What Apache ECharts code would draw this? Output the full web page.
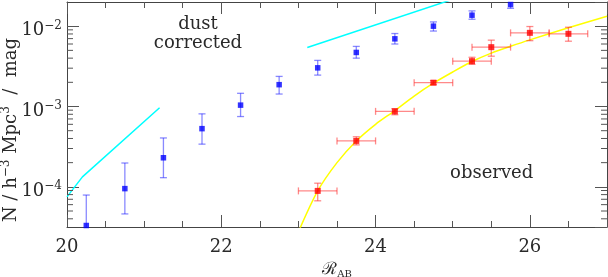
<!DOCTYPE html>
<html>
<head>
<meta charset="utf-8">
<script src="https://cdn.jsdelivr.net/npm/echarts@6/dist/echarts.min.js"></script>
<style>
html,body{margin:0;padding:0;background:#fff;}
#c{width:608px;height:277px;}
</style>
</head>
<body>
<div id="c"></div>
<script>
// ---- data ----
const blueMag = [20.25, 20.75, 21.25, 21.75, 22.25, 22.75, 23.25, 23.75, 24.25, 24.75, 25.25, 25.75];
const blueN   = [3.3e-5, 9.5e-5, 2.3e-4, 5.3e-4, 1.04e-3, 1.87e-3, 3.03e-3, 4.71e-3, 6.96e-3, 1.0e-2, 1.37e-2, 1.86e-2];
const blueLo  = [1.5e-5, 4.6e-5, 1.30e-4, 3.4e-4, 7.5e-4, 1.43e-3, 2.46e-3, 4.0e-3, 6.0e-3, 8.7e-3, 1.22e-2, 1.67e-2];
const blueHi  = [7.9e-5, 1.98e-4, 4.06e-4, 8.1e-4, 1.46e-3, 2.37e-3, 3.75e-3, 5.6e-3, 8.1e-3, 1.13e-2, 1.55e-2, 2.1e-2];

const redMag   = [23.25, 23.75, 24.25, 24.75, 25.25, 25.5, 26.0, 26.5];
const redMagLo = [23.0, 23.5, 24.0, 24.5, 25.0, 25.25, 25.75, 26.25];
const redMagHi = [23.5, 24.0, 24.5, 25.0, 25.5, 25.75, 26.25, 26.75];
const redN     = [8.9e-5, 3.73e-4, 8.7e-4, 1.98e-3, 3.67e-3, 5.48e-3, 8.26e-3, 8.03e-3];
const redLo    = [6.7e-5, 3.33e-4, 7.9e-4, 1.87e-3, 3.35e-3, 4.23e-3, 6.6e-3, 6.5e-3];
const redHi    = [1.11e-4, 4.2e-4, 9.4e-4, 2.1e-3, 4.1e-3, 6.7e-3, 9.9e-3, 9.7e-3];

const obsFitMag = [23.0, 23.25, 23.5, 23.75, 24.0, 24.25, 24.5, 24.75, 25.0, 25.25, 25.5, 25.75, 26.0, 26.5, 27.0];
const obsFitN   = [2.75e-5, 8.9e-5, 2.0e-4, 3.72e-4, 6.0e-4, 8.9e-4, 1.35e-3, 1.95e-3, 2.69e-3, 3.63e-3, 4.62e-3, 5.62e-3, 6.76e-3, 9.55e-3, 1.33e-2];

const corrFaintMag  = [20.0, 20.2, 21.2];
const corrFaintN    = [7.5e-5, 1.33e-4, 9.66e-4];
const corrBrightMag = [23.115, 25.0];
const corrBrightN   = [5.43e-3, 2.16e-2];

const xMin = 20, xMax = 27, xStep = 2;
const yMin = 3.162e-5, yMax = 0.02;
const yMinorTicks = [4e-5,5e-5,6e-5,7e-5,8e-5,9e-5,
                     2e-4,3e-4,4e-4,5e-4,6e-4,7e-4,8e-4,9e-4,
                     2e-3,3e-3,4e-3,5e-3,6e-3,7e-3,8e-3,9e-3];

// ---- chart ----
const FONT = 'DejaVu Serif';
const TXT = '#2a2a2a';
const chart = echarts.init(document.getElementById('c'), null, {renderer: 'canvas'});

function powLabel(v) {
  const lg = Math.log10(v);
  const e = Math.round(lg);
  if (Math.abs(lg - e) > 0.01) return '';
  return '{b|10}{s|' + (e < 0 ? '\u2212' : '') + Math.abs(e) + '}';
}

const axisLineStyle = {color: '#444', width: 1};
const tickStyle = {color: '#555', width: 1};

function clampY(p, area) { return Math.max(area.y, Math.min(area.y + area.height, p)); }

function errRender(hasX) {
  return function (params, api) {
    const area = params.coordSys;
    const x = api.value(0), y = api.value(1);
    const ylo = api.value(2), yhi = api.value(3);
    const c = api.coord([x, y]);
    const pLo = api.coord([x, ylo])[1];
    const pHi = api.coord([x, yhi])[1];
    const yb = clampY(pLo, area), yt = clampY(pHi, area);
    const st = api.style({stroke: api.visual('color'), fill: null, lineWidth: 1.3});
    const cap = 3.5;
    const children = [{type: 'line', shape: {x1: c[0], y1: yb, x2: c[0], y2: yt}, style: st}];
    if (yb === pLo) children.push({type: 'line', shape: {x1: c[0]-cap, y1: yb, x2: c[0]+cap, y2: yb}, style: st});
    if (yt === pHi) children.push({type: 'line', shape: {x1: c[0]-cap, y1: yt, x2: c[0]+cap, y2: yt}, style: st});
    if (hasX) {
      const xl = api.coord([api.value(4), y])[0];
      const xr = api.coord([api.value(5), y])[0];
      children.push({type: 'line', shape: {x1: xl, y1: c[1], x2: xr, y2: c[1]}, style: st});
      children.push({type: 'line', shape: {x1: xl, y1: c[1]-cap, x2: xl, y2: c[1]+cap}, style: st});
      children.push({type: 'line', shape: {x1: xr, y1: c[1]-cap, x2: xr, y2: c[1]+cap}, style: st});
    }
    return {type: 'group', children: children};
  };
}

const option = {
  animation: false,
  backgroundColor: '#fff',
  grid: {left: 67, right: 1, top: 2, bottom: 50, containLabel: false, outerBoundsMode: 'none'},
  xAxis: [{
    type: 'value', min: xMin, max: xMax, interval: xStep, position: 'bottom',
    axisLine: {show: true, lineStyle: axisLineStyle},
    axisTick: {show: true, inside: true, length: 12, lineStyle: tickStyle},
    minorTick: {show: true, splitNumber: 4, length: 6, lineStyle: tickStyle},
    splitLine: {show: false},
    axisLabel: {show: true, margin: 11, fontFamily: FONT, fontSize: 18, color: TXT,
      showMaxLabel: false,
      formatter: function (v) { return (v % 2 === 0 && v < 27) ? String(v) : ''; }},
    name: '{r|\u211B}{s|AB}', nameLocation: 'middle', nameGap: 30,
    nameTextStyle: {rich: {
      r: {fontFamily: FONT, fontSize: 17, color: TXT, lineHeight: 20},
      s: {fontFamily: FONT, fontSize: 10, color: TXT, lineHeight: 10, verticalAlign: 'bottom'}
    }}
  }, {
    type: 'value', min: xMin, max: xMax, interval: xStep, position: 'top',
    axisLine: {show: true, lineStyle: axisLineStyle},
    axisTick: {show: true, inside: true, length: 12, lineStyle: tickStyle},
    minorTick: {show: true, splitNumber: 4, length: 6, lineStyle: tickStyle},
    splitLine: {show: false}, axisLabel: {show: false}
  }],
  yAxis: [{
    type: 'log', logBase: 10, min: yMin, max: yMax, position: 'left',
    axisLine: {show: true, lineStyle: axisLineStyle},
    axisTick: {show: true, inside: true, length: 12, lineStyle: tickStyle},
    minorTick: {show: false}, splitLine: {show: false},
    axisLabel: {show: true, margin: 5, formatter: powLabel, padding: [9, 0, 0, 0],
      showMinLabel: false, showMaxLabel: false,
      rich: {
        b: {fontFamily: FONT, fontSize: 18, color: TXT, lineHeight: 22},
        s: {fontFamily: FONT, fontSize: 12, color: TXT, lineHeight: 12, verticalAlign: 'top'}
      }}
  }, {
    type: 'log', logBase: 10, min: yMin, max: yMax, position: 'right',
    axisLine: {show: true, lineStyle: axisLineStyle},
    axisTick: {show: true, inside: true, length: 12, lineStyle: tickStyle},
    minorTick: {show: false}, splitLine: {show: false}, axisLabel: {show: false}
  }],
  graphic: [
    {type: 'text', x: 198, y: 24.5, style: {text: 'dust', align: 'center', verticalAlign: 'middle', fontFamily: FONT, fontSize: 18, fill: TXT}, silent: true},
    {type: 'text', x: 198, y: 43.5, style: {text: 'corrected', align: 'center', verticalAlign: 'middle', fontFamily: FONT, fontSize: 18, fill: TXT}, silent: true},
    {type: 'text', x: 491.7, y: 173, style: {text: 'observed', align: 'center', verticalAlign: 'middle', fontFamily: FONT, fontSize: 18, fill: TXT}, silent: true},
    {type: 'text', x: 11, y: 130, rotation: Math.PI / 2,
      style: {text: '{m|N / h}{s|\u22123}{m| Mpc}{s|3}{m|  /  mag}', align: 'center', verticalAlign: 'middle',
        rich: {
          m: {fontFamily: FONT, fontSize: 18, fill: TXT, lineHeight: 22},
          s: {fontFamily: FONT, fontSize: 12, fill: TXT, lineHeight: 12, verticalAlign: 'top'}
        }}, silent: true}
  ],
  series: [
    {type: 'custom', name: 'yMinor', xAxisIndex: 0, yAxisIndex: 0, silent: true, z: 5,
      data: yMinorTicks.map(v => [xMin, v]),
      renderItem: function (params, api) {
        const v = api.value(1);
        const l = api.coord([xMin, v]);
        const r = api.coord([xMax, v]);
        const st = {stroke: '#555', lineWidth: 1};
        return {type: 'group', children: [
          {type: 'line', shape: {x1: l[0], y1: l[1], x2: l[0] + 6, y2: l[1]}, style: st},
          {type: 'line', shape: {x1: r[0], y1: r[1], x2: r[0] - 6, y2: r[1]}, style: st}
        ]};
      }},
    {type: 'line', name: 'corrFaint', data: corrFaintMag.map((m, i) => [m, corrFaintN[i]]),
      showSymbol: false, symbol: 'none', lineStyle: {color: '#00ffff', width: 1.5}, clip: true, z: 2},
    {type: 'line', name: 'corrBright', data: corrBrightMag.map((m, i) => [m, corrBrightN[i]]),
      showSymbol: false, symbol: 'none', lineStyle: {color: '#00ffff', width: 1.5}, clip: true, z: 2},
    {type: 'line', name: 'obsFit', data: obsFitMag.map((m, i) => [m, obsFitN[i]]), smooth: 0.3,
      showSymbol: false, symbol: 'none', lineStyle: {color: '#ffff00', width: 1.5}, clip: true, z: 2},
    {type: 'custom', name: 'blueErr', silent: true, z: 3,
      itemStyle: {color: 'rgba(40,40,255,0.55)'},
      data: blueMag.map((m, i) => [m, blueN[i], blueLo[i], blueHi[i]]),
      encode: {x: 0, y: 1}, renderItem: errRender(false)},
    {type: 'custom', name: 'redErr', silent: true, z: 3,
      itemStyle: {color: 'rgba(255,40,40,0.55)'},
      data: redMag.map((m, i) => [m, redN[i], redLo[i], redHi[i], redMagLo[i], redMagHi[i]]),
      encode: {x: 0, y: 1}, renderItem: errRender(true)},
    {type: 'scatter', name: 'dust corrected', data: blueMag.map((m, i) => [m, blueN[i]]),
      symbol: 'rect', symbolSize: 5.5, itemStyle: {color: '#0000ff'}, z: 4},
    {type: 'scatter', name: 'observed', data: redMag.map((m, i) => [m, redN[i]]),
      symbol: 'rect', symbolSize: 6, itemStyle: {color: '#ff0000'}, z: 4}
  ]
};
chart.setOption(option);
</script>
</body>
</html>
